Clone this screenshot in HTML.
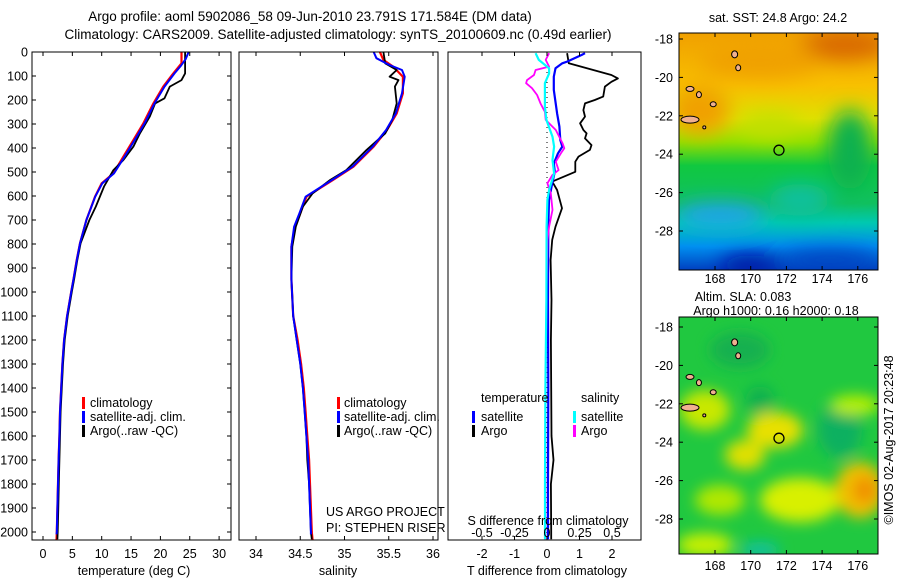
<!DOCTYPE html>
<html><head><meta charset="utf-8">
<style>
html,body{margin:0;padding:0;background:#fff;}
svg{display:block;font-family:"Liberation Sans",sans-serif;}
text{font-size:12.5px;fill:#000;}
</style></head>
<body>
<svg id="chart" width="900" height="580" viewBox="0 0 900 580">
<defs>
<filter id="blur6" x="-50%" y="-50%" width="200%" height="200%"><feGaussianBlur stdDeviation="7"/></filter>
<filter id="blur10" x="-50%" y="-50%" width="200%" height="200%"><feGaussianBlur stdDeviation="10"/></filter>
<clipPath id="clipM1"><rect x="679" y="33" width="199" height="237"/></clipPath>
<clipPath id="clipM2"><rect x="679" y="317" width="199" height="237"/></clipPath>
<clipPath id="clipP1"><rect x="32" y="52" width="199" height="488"/></clipPath>
<clipPath id="clipP2"><rect x="239" y="52" width="199" height="488"/></clipPath>
<clipPath id="clipP3"><rect x="448" y="52" width="193" height="488"/></clipPath>
<linearGradient id="sstGrad" x1="0" y1="0" x2="0" y2="1">
<stop offset="0" stop-color="#f0a000"/><stop offset="0.22" stop-color="#f8c000"/><stop offset="0.36" stop-color="#e0e000"/>
<stop offset="0.46" stop-color="#90e000"/><stop offset="0.56" stop-color="#10c840"/><stop offset="0.72" stop-color="#10c060"/>
<stop offset="0.8" stop-color="#00c8b0"/><stop offset="0.9" stop-color="#0090f0"/><stop offset="1" stop-color="#0040c0"/>
</linearGradient>
</defs>
<g id="titles">
<text x="310" y="21" text-anchor="middle" style="font-size:13.5px">Argo profile: aoml 5902086_58 09-Jun-2010 23.791S 171.584E (DM data)</text>
<text x="338" y="39" text-anchor="middle" style="font-size:13.5px">Climatology: CARS2009. Satellite-adjusted climatology: synTS_20100609.nc (0.49d earlier)</text>
</g>
<g id="frames"></g>
<g id="p1" clip-path="url(#clipP1)"></g>
<g id="p2" clip-path="url(#clipP2)"></g>
<g id="p3" clip-path="url(#clipP3)"></g>
<g id="axes"></g>
<g id="legends">
<rect x="82" y="397" width="3" height="12" fill="#f00"/>
<text x="90" y="407">climatology</text>
<rect x="82" y="411" width="3" height="12" fill="#00f"/>
<text x="90" y="421">satellite-adj. clim.</text>
<rect x="82" y="425" width="3" height="12" fill="#000"/>
<text x="90" y="435">Argo(..raw -QC)</text>
<rect x="337" y="397" width="3" height="12" fill="#f00"/>
<text x="344" y="407">climatology</text>
<rect x="337" y="411" width="3" height="12" fill="#00f"/>
<text x="344" y="421">satellite-adj. clim.</text>
<rect x="337" y="425" width="3" height="12" fill="#000"/>
<text x="344" y="435">Argo(..raw -QC)</text>
<text x="481" y="402">temperature</text>
<text x="581" y="402">salinity</text>
<rect x="472" y="411" width="3" height="12" fill="#00f"/>
<text x="481" y="421">satellite</text>
<rect x="472" y="425" width="3" height="12" fill="#000"/>
<text x="481" y="435">Argo</text>
<rect x="573" y="411" width="3" height="12" fill="#0ff"/>
<text x="581" y="421">satellite</text>
<rect x="573" y="425" width="3" height="12" fill="#f0f"/>
<text x="581" y="435">Argo</text>
<text x="326" y="516">US ARGO PROJECT</text>
<text x="326" y="532">PI: STEPHEN RISER</text>
</g>
<g id="xlabels">
<text x="134" y="575" text-anchor="middle">temperature (deg C)</text>
<text x="338" y="575" text-anchor="middle">salinity</text>
<text x="548" y="525" text-anchor="middle">S difference from climatology</text>
<text x="547" y="575" text-anchor="middle">T difference from climatology</text>
</g>
<g id="maps">
<g clip-path="url(#clipM1)">
<rect x="679" y="33" width="199" height="237" fill="url(#sstGrad)"/>
<g filter="url(#blur10)">
<ellipse cx="845" cy="45" rx="45" ry="15" fill="#d86800"/>
<ellipse cx="700" cy="110" rx="30" ry="25" fill="#f0a000"/>
<ellipse cx="760" cy="60" rx="60" ry="18" fill="#f0a000"/>
<ellipse cx="850" cy="150" rx="22" ry="40" fill="#10b050"/>
<ellipse cx="770" cy="125" rx="30" ry="12" fill="#c0e000"/>
<ellipse cx="720" cy="215" rx="45" ry="12" fill="#20a0f0"/>
<ellipse cx="750" cy="265" rx="30" ry="10" fill="#0010a0"/>
<ellipse cx="830" cy="260" rx="50" ry="10" fill="#0040c0"/>
<ellipse cx="800" cy="200" rx="30" ry="16" fill="#10c0a0"/>
</g>
</g>
<g clip-path="url(#clipM2)">
<rect x="679" y="317" width="199" height="237" fill="#20c840"/>
<g filter="url(#blur6)">
<ellipse cx="705" cy="410" rx="25" ry="20" fill="#c8e800"/>
<ellipse cx="775" cy="430" rx="28" ry="18" fill="#e8e000"/>
<ellipse cx="745" cy="455" rx="20" ry="15" fill="#e0e000"/>
<ellipse cx="800" cy="500" rx="40" ry="22" fill="#d8f000"/>
<ellipse cx="860" cy="490" rx="25" ry="28" fill="#f0c000"/>
<ellipse cx="865" cy="490" rx="12" ry="14" fill="#f09000"/>
<ellipse cx="720" cy="500" rx="25" ry="15" fill="#b0e800"/>
<ellipse cx="705" cy="545" rx="28" ry="12" fill="#c8f000"/>
<ellipse cx="760" cy="400" rx="14" ry="14" fill="#10b050"/>
<ellipse cx="840" cy="430" rx="22" ry="28" fill="#10b060"/>
<ellipse cx="740" cy="350" rx="30" ry="18" fill="#18b050"/>
<ellipse cx="760" cy="550" rx="20" ry="8" fill="#10c0a0"/>
<ellipse cx="855" cy="405" rx="25" ry="10" fill="#b8f000"/>
</g>
</g>
<g id="islands"></g>
<rect x="679" y="33" width="199" height="237" fill="none" stroke="#000"/>
<rect x="679" y="317" width="199" height="237" fill="none" stroke="#000"/>
<text x="778" y="22" text-anchor="middle">sat. SST: 24.8 Argo: 24.2</text>
<text x="743" y="301" text-anchor="middle">Altim. SLA: 0.083</text>
<text x="776" y="315" text-anchor="middle">Argo h1000: 0.16 h2000: 0.18</text>
<text transform="translate(893,440) rotate(-90)" text-anchor="middle">©IMOS 02-Aug-2017 20:23:48</text>
</g>
<g id="mapaxes"></g>
</svg>
<script>
// ---- data ----
const tClimDepth = [0,47,89,144,214,297,367,436,506,547,603,700,797,867,947,1000,1100,1200,1300,1400,1500,1600,1700,1800,1900,2000,2035];
const tClimVal   = [23.6,23.6,22.2,20.5,18.8,17.1,15.4,13.7,12.0,10.0,8.86,7.4,6.3,5.74,5.2,4.8,4.1,3.6,3.3,3.1,2.9,2.8,2.65,2.55,2.45,2.35,2.3];
const tSatDepth  = [0,30,60,89,144,214,297,367,436,506,547,603,700,797,867,947,1000,1100,1200,1300,1400,1500,1600,1700,1800,1900,2000,2010];
const tSatVal    = [24.8,24.3,23.4,22.4,20.7,19.0,17.3,15.6,13.9,12.1,10.1,8.9,7.4,6.3,5.75,5.2,4.8,4.1,3.6,3.3,3.1,2.9,2.8,2.65,2.55,2.45,2.35,2.3];
const tArgoDepth = [0,89,117,144,193,214,269,339,394,450,492,561,644,700,797,867,947,1000,1100,1200,1300,1400,1500,1600,1700,1800,1900,2000,2030];
const tArgoVal   = [24.2,24.2,23.6,21.6,20.7,19.1,18.2,16.5,15.4,13.7,12.0,10.4,9.0,7.9,6.4,5.85,5.3,4.9,4.2,3.7,3.4,3.2,3.0,2.9,2.8,2.7,2.6,2.5,2.45];

const sClimDepth = [0,33,61,103,172,256,325,394,478,533,575,603,672,728,811,947,1100,1200,1300,1400,1500,1600,1700,1800,1900,2000,2035];
const sClimVal   = [35.40,35.44,35.55,35.66,35.66,35.59,35.48,35.33,35.10,34.87,34.69,34.57,34.50,34.44,34.40,34.40,34.42,34.47,34.51,34.54,34.56,34.58,34.60,34.61,34.62,34.63,34.64];
const sSatDepth  = [0,26,54,75,103,172,256,325,394,478,533,575,603,672,728,811,947,1100,1200,1300,1400,1500,1600,1700,1800,1900,2000,2010];
const sSatVal    = [35.33,35.36,35.51,35.65,35.68,35.65,35.58,35.47,35.32,35.09,34.86,34.68,34.56,34.49,34.43,34.40,34.40,34.42,34.46,34.50,34.53,34.55,34.57,34.59,34.60,34.61,34.62,34.62];
const sArgoDepth = [0,47,75,103,117,144,214,283,339,408,492,533,589,644,728,811,947,1100,1200,1300,1400,1500,1600,1700,1800,1900,2000,2030];
const sArgoVal   = [35.44,35.46,35.59,35.51,35.61,35.57,35.59,35.54,35.46,35.25,35.02,34.84,34.64,34.53,34.45,34.41,34.40,34.42,34.46,34.50,34.53,34.55,34.57,34.58,34.60,34.61,34.62,34.63];

const dtArgoDepth = [5,47,96,110,124,144,186,200,214,242,269,297,325,339,360,388,408,436,457,499,540,575,651,728,783,867,1033,1200,1400,1600,1700,1800,2000,2030];
const dtArgoVal   = [0.62,0.67,1.98,2.18,1.98,1.78,1.73,1.47,1.17,1.12,1.17,1.02,1.12,1.22,1.17,1.37,1.32,0.97,0.87,0.87,0.16,0.31,0.46,0.26,0.16,0.11,0.14,0.12,0.13,0.14,0.2,0.12,0.13,0.13];
const dtSatDepth  = [5,12,40,47,68,103,158,256,311,367,394,422,464,499,547,617,728,1033,1400,1800,2030];
const dtSatVal    = [1.17,1.07,0.62,0.47,0.26,0.21,0.21,0.31,0.38,0.41,0.47,0.34,0.21,0.24,0.16,0.06,0.04,0.03,0.04,0.03,0.03];
const dsArgoDepth = [5,33,61,75,96,117,130,151,179,214,249,283,304,325,381,401,422,457,492,512,547,589,658,728,783,1033,1400,1800,2030];
const dsArgoVal   = [0.016,-0.01,0.016,-0.088,-0.10,-0.154,-0.161,-0.115,-0.076,-0.05,-0.016,-0.01,0.029,0.068,0.12,0.133,0.107,0.068,0.089,0.042,0.003,0.029,0.042,0.016,0.003,-0.005,-0.01,-0.012,-0.012];
const dsSatDepth  = [5,33,68,89,130,228,283,353,394,450,506,575,617,728,1033,1400,1800,2030];
const dsSatVal    = [-0.088,-0.063,0.016,0.016,-0.016,-0.016,-0.005,0.042,0.055,0.042,0.055,0.016,0.003,-0.003,-0.005,-0.012,-0.015,-0.015];

const depthTicks = [0,100,200,300,400,500,600,700,800,900,1000,1100,1200,1300,1400,1500,1600,1700,1800,1900,2000];
const tempTicks = [0,5,10,15,20,25,30];
const salTicks = [34,34.5,35,35.5,36];
const salTickLabels = ["34","34.5","35","35.5","36"];
const dtTicks = [-2,-1,0,1,2];
const dsTicks = [-0.5,-0.25,0,0.25,0.5];
const latTicks = [-18,-20,-22,-24,-26,-28];
const lonTicks = [168,170,172,174,176];
const argoLon = 171.584, argoLat = -23.791;

// ---- scales ----
const NS='http://www.w3.org/2000/svg';
const yD = d => 52 + d*0.24;
const xT = t => 43 + t*5.87;
const xS = s => 256 + (s-34)*88.5;
const xDT = t => 547 + t*32.5;
const xDS = s => 547 + s*130;
const mapX = lon => 715 + (lon-168)*17.85;
const mapY1 = lat => 39 + (-18-lat)*19.2;
const mapY2 = lat => 327 + (-18-lat)*19.2;

function el(tag, attrs, parent){const e=document.createElementNS(NS,tag);for(const k in attrs)e.setAttribute(k,attrs[k]);parent.appendChild(e);return e;}
function line(parent, xs, ds, vals, color, name, w){
  const pts = ds.map((d,i)=>xs(vals[i]).toFixed(1)+','+yD(d).toFixed(1)).join(' ');
  const p = el('polyline',{points:pts,fill:'none',stroke:color,'stroke-width':w||2,'stroke-linejoin':'round'},parent);
  
  
}
const p1=document.getElementById('p1'),p2=document.getElementById('p2'),p3=document.getElementById('p3');
line(p1,xT,tClimDepth,tClimVal,'#f00','temp-climatology-line',2.2);
line(p1,xT,tArgoDepth,tArgoVal,'#000','temp-argo-line',1.8);
line(p1,xT,tSatDepth,tSatVal,'#00f','temp-satellite-line',2);
line(p2,xS,sClimDepth,sClimVal,'#f00','sal-climatology-line',2.2);
line(p2,xS,sArgoDepth,sArgoVal,'#000','sal-argo-line',1.8);
line(p2,xS,sSatDepth,sSatVal,'#00f','sal-satellite-line',2);
const z = el('line',{x1:xDT(0),y1:52,x2:xDT(0),y2:540,stroke:'#000','stroke-width':1,'stroke-dasharray':'1 4'},p3);


line(p3,xDT,dtArgoDepth,dtArgoVal,'#000','t-diff-argo-line',1.8);
line(p3,xDT,dtSatDepth,dtSatVal,'#00f','t-diff-satellite-line',2.2);
line(p3,xDS,dsArgoDepth,dsArgoVal,'#f0f','s-diff-argo-line',1.8);
line(p3,xDS,dsSatDepth,dsSatVal,'#0ff','s-diff-satellite-line',2.2);

const ax=document.getElementById('axes');
const frames=[[32,231,'temperature-panel-frame'],[239,438,'salinity-panel-frame'],[448,641,'difference-panel-frame']];
frames.forEach(f=>{
  const r=el('rect',{x:f[0],y:52,width:f[1]-f[0],height:488,fill:'none',stroke:'#000','stroke-width':1},ax);
  
  
});
depthTicks.forEach(d=>{
  const t=el('text',{x:28,y:yD(d)+4.5,'text-anchor':'end'},ax);
  t.textContent=d;
  
  
  el('line',{x1:32,y1:yD(d),x2:36,y2:yD(d),stroke:'#000'},ax);
  el('line',{x1:227,y1:yD(d),x2:231,y2:yD(d),stroke:'#000'},ax);
});
function xAxis(ticks, labels, sx, ty, tickTop){
  ticks.forEach((v,i)=>{
    const x=sx(v);
    const t=el('text',{x:x,y:ty,'text-anchor':'middle'},ax);
    t.textContent=labels[i];
    
    
    el('line',{x1:x,y1:540,x2:x,y2:536,stroke:'#000'},ax);
    if(tickTop) el('line',{x1:x,y1:52,x2:x,y2:56,stroke:'#000'},ax);
  });
}
xAxis(tempTicks,tempTicks.map(String),xT,558,true);
xAxis(salTicks,salTickLabels,xS,558,true);
xAxis(dtTicks,dtTicks.map(String),xDT,558,true);
dsTicks.forEach(v=>{
  const t=el('text',{x:xDS(v),y:537,'text-anchor':'middle'},ax);
  t.textContent=String(v);
  
  
});

const ma=document.getElementById('mapaxes');
[[mapY1,33,270,283],[mapY2,317,554,570]].forEach(([fy,top,bot,ly])=>{
  latTicks.forEach(lat=>{
    const y=fy(lat);
    const t=el('text',{x:673,y:y+4.5,'text-anchor':'end'},ma);
    t.textContent=lat;
    
    
    el('line',{x1:679,y1:y,x2:683,y2:y,stroke:'#000'},ma);
    el('line',{x1:874,y1:y,x2:878,y2:y,stroke:'#000'},ma);
  });
  lonTicks.forEach(lon=>{
    const x=mapX(lon);
    const t=el('text',{x:x,y:ly,'text-anchor':'middle'},ma);
    t.textContent=lon;
    
    
    el('line',{x1:x,y1:bot,x2:x,y2:bot-4,stroke:'#000'},ma);
    el('line',{x1:x,y1:top,x2:x,y2:top+4,stroke:'#000'},ma);
  });
  const c=el('circle',{cx:mapX(argoLon),cy:fy(argoLat),r:5,fill:'none',stroke:'#000','stroke-width':1.3},ma);
  
  
  const isl=[[169.1,-18.8,3,3.5],[169.3,-19.5,2.5,3],[166.6,-20.6,4,2.5],[167.1,-20.9,2.5,3],[167.9,-21.4,3,2.5],[166.6,-22.2,9,3.5],[167.4,-22.6,1.5,1.5]];
  isl.forEach(s=>{
    const e=el('ellipse',{cx:mapX(s[0]),cy:fy(s[1]),rx:s[2],ry:s[3],fill:'#f0b090',stroke:'#000','stroke-width':1},ma);
    
    
  });
});
</script>
</body></html>
